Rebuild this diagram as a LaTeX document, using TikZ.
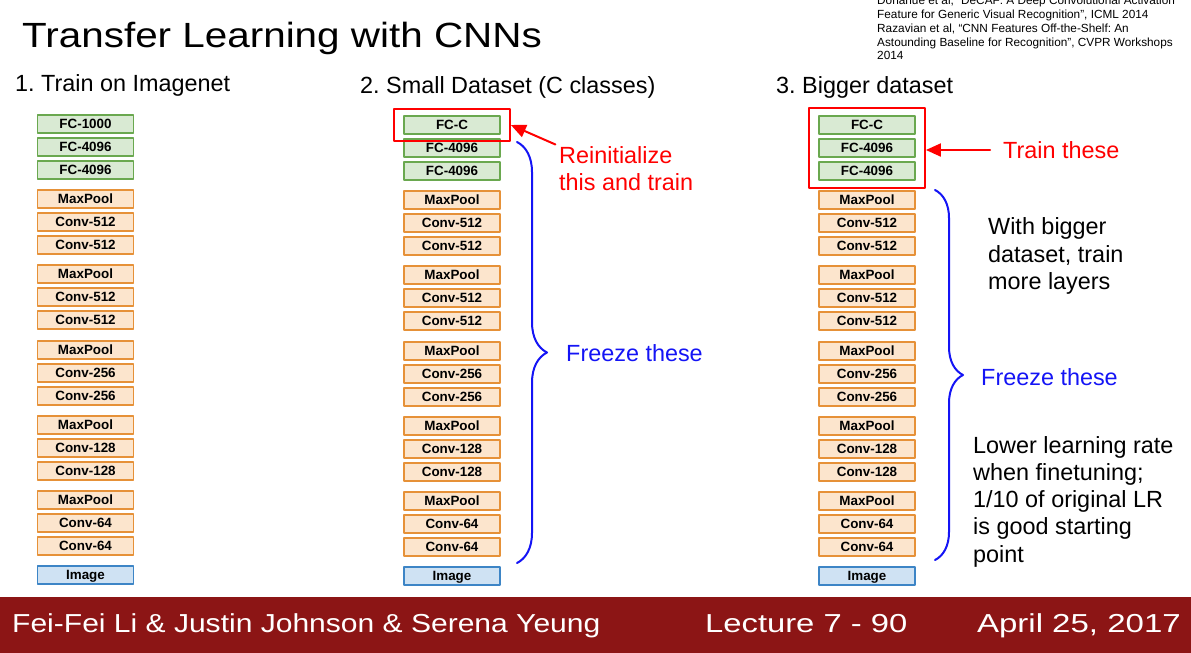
\documentclass[tikz,border=0pt]{standalone}
\usepackage{fontspec}
\setmainfont{Liberation Sans}
\usetikzlibrary{arrows.meta,fit,decorations.pathreplacing}
\definecolor{fcgreen}{HTML}{6AA84F}
\definecolor{fcfill}{HTML}{D9EAD3}
\definecolor{convorange}{HTML}{E69138}
\definecolor{convfill}{HTML}{FCE5CD}
\definecolor{imgblue}{HTML}{3D85C6}
\definecolor{imgfill}{HTML}{CFE2F3}
\definecolor{bracebl}{RGB}{20,20,245}
\definecolor{footred}{RGB}{140,21,21}
\frenchspacing

\begin{document}
\begin{tikzpicture}[line cap=round,line join=round,>={Triangle[length=15pt,width=13pt]},x=1pt,y=-1pt,
layer/.style={minimum width=96pt,minimum height=17.5pt,inner sep=0pt,line width=1.8pt,text height=9.6pt,text depth=0pt,font=\fontsize{13.4}{15}\selectfont\bfseries},
fc/.style={layer,draw=fcgreen,fill=fcfill},
conv/.style={layer,draw=convorange,fill=convfill},
img/.style={layer,draw=imgblue,fill=imgfill},
redframe/.style={draw=red,line width=2pt,inner xsep=9pt,inner ysep=6pt},
redarrow/.style={->,draw=red,line width=2pt},
freeze/.style={draw=bracebl,line width=2pt,decorate,decoration={brace,amplitude=#1}},
freeze/.default=30pt,
txt/.style={inner sep=0pt,font=\fontsize{23.4}{27.3}\selectfont}]

\useasboundingbox (0,0) rectangle (1191,653);
\clip (0,0) rectangle (1191,653);
\node[anchor=base west,inner sep=0pt,font=\fontsize{35}{40}\selectfont] (title) at (22,47) {\scalebox{1.155}[1]{Transfer Learning with CNNs}};
\node[anchor=west,inner sep=0pt,align=left,font=\fontsize{11.8}{13.75}\selectfont] (refs) at (877,28.2) {Donahue et al, “DeCAF: A Deep Convolutional Activation\\Feature for Generic Visual Recognition”, ICML 2014\\Razavian et al, “CNN Features Off-the-Shelf: An\\Astounding Baseline for Recognition”, CVPR Workshops\\2014};
\node[txt,anchor=base west] (head1) at (15,91.5) {1. Train on Imagenet};
\node[txt,anchor=base west] (head2) at (360,93.5) {2. Small Dataset (C classes)};
\node[txt,anchor=base west] (head3) at (776,93.5) {3. Bigger dataset};
%%% 1. imagenet
\node[fc] (a1) at (85.5,124) {FC-1000};
\node[fc] (a2) at (85.5,147) {FC-4096};
\node[fc] (a3) at (85.5,170) {FC-4096};
\node[conv] (a4) at (85.5,199) {MaxPool};
\node[conv] (a5) at (85.5,222) {Conv-512};
\node[conv] (a6) at (85.5,245) {Conv-512};
\node[conv] (a7) at (85.5,274) {MaxPool};
\node[conv] (a8) at (85.5,297) {Conv-512};
\node[conv] (a9) at (85.5,320) {Conv-512};
\node[conv] (a10) at (85.5,350) {MaxPool};
\node[conv] (a11) at (85.5,373) {Conv-256};
\node[conv] (a12) at (85.5,396) {Conv-256};
\node[conv] (a13) at (85.5,425) {MaxPool};
\node[conv] (a14) at (85.5,448) {Conv-128};
\node[conv] (a15) at (85.5,471) {Conv-128};
\node[conv] (a16) at (85.5,500) {MaxPool};
\node[conv] (a17) at (85.5,523) {Conv-64};
\node[conv] (a18) at (85.5,546) {Conv-64};
\node[img] (a19) at (85.5,575) {Image};
%%% 2. small dataset
\node[fc] (b1) at (452,125) {FC-C};
\node[fc] (b2) at (452,148) {FC-4096};
\node[fc] (b3) at (452,171) {FC-4096};
\node[conv] (b4) at (452,200) {MaxPool};
\node[conv] (b5) at (452,223) {Conv-512};
\node[conv] (b6) at (452,246) {Conv-512};
\node[conv] (b7) at (452,275) {MaxPool};
\node[conv] (b8) at (452,298) {Conv-512};
\node[conv] (b9) at (452,321) {Conv-512};
\node[conv] (b10) at (452,351) {MaxPool};
\node[conv] (b11) at (452,374) {Conv-256};
\node[conv] (b12) at (452,397) {Conv-256};
\node[conv] (b13) at (452,426) {MaxPool};
\node[conv] (b14) at (452,449) {Conv-128};
\node[conv] (b15) at (452,472) {Conv-128};
\node[conv] (b16) at (452,501) {MaxPool};
\node[conv] (b17) at (452,524) {Conv-64};
\node[conv] (b18) at (452,547) {Conv-64};
\node[img] (b19) at (452,576) {Image};
%%
\node[redframe,fit=(b1)] (trainb) {};
\node[txt,red,anchor=west,align=left] (reinit) at (559,168.5) {Reinitialize\\this and train};
\draw[redarrow,shorten <=4pt] (reinit.north west) -- (trainb.east);
\coordinate (fbtop) at (517,142);
\coordinate (fbbot) at (517,563);
\draw[freeze=30pt] (fbtop) -- (fbbot);
\node[txt,bracebl,anchor=west] (freezeb) at (566,353) {Freeze these};
%%% 3. bigger dataset
\node[fc] (c1) at (867,125) {FC-C};
\node[fc] (c2) at (867,148) {FC-4096};
\node[fc] (c3) at (867,171) {FC-4096};
\node[conv] (c4) at (867,200) {MaxPool};
\node[conv] (c5) at (867,223) {Conv-512};
\node[conv] (c6) at (867,246) {Conv-512};
\node[conv] (c7) at (867,275) {MaxPool};
\node[conv] (c8) at (867,298) {Conv-512};
\node[conv] (c9) at (867,321) {Conv-512};
\node[conv] (c10) at (867,351) {MaxPool};
\node[conv] (c11) at (867,374) {Conv-256};
\node[conv] (c12) at (867,397) {Conv-256};
\node[conv] (c13) at (867,426) {MaxPool};
\node[conv] (c14) at (867,449) {Conv-128};
\node[conv] (c15) at (867,472) {Conv-128};
\node[conv] (c16) at (867,501) {MaxPool};
\node[conv] (c17) at (867,524) {Conv-64};
\node[conv] (c18) at (867,547) {Conv-64};
\node[img] (c19) at (867,576) {Image};
%%
\node[redframe,inner ysep=7pt,fit=(c1)(c3)] (trainc) {};
\node[txt,red,anchor=west] (ttc) at (1003,150) {Train these};
\draw[redarrow,shorten <=13pt] (ttc.west) -- (ttc.west -| trainc.east);
\coordinate (fctop) at (935,190);
\coordinate (fcbot) at (935,560);
\draw[freeze=28pt] (fctop) -- (fcbot);
\node[txt,bracebl,anchor=west] (freezec) at (981,377) {Freeze these};
\node[txt,anchor=west,align=left] (bigger) at (988,256) {With bigger\\dataset, train\\more layers};
\node[txt,anchor=west,align=left] (lower) at (973,501.6) {Lower learning rate\\when finetuning;\\1/10 of original LR\\is good starting\\point};
%%% footer
\fill[footred] (0,597) rectangle (1191,653);
\node[anchor=base west,inner sep=0pt,white,font=\fontsize{26}{30}\selectfont] (authors) at (12,632) {\scalebox{1.155}[1]{Fei-Fei Li \& Justin Johnson \& Serena Yeung}};
\node[anchor=base west,inner sep=0pt,white,font=\fontsize{26}{30}\selectfont] (lecture) at (705,632) {\scalebox{1.26}[1]{Lecture 7 - 90}};
\node[anchor=base east,inner sep=0pt,white,font=\fontsize{26}{30}\selectfont] (date) at (1181,632) {\scalebox{1.27}[1]{April 25, 2017}};
\end{tikzpicture}
\end{document}
